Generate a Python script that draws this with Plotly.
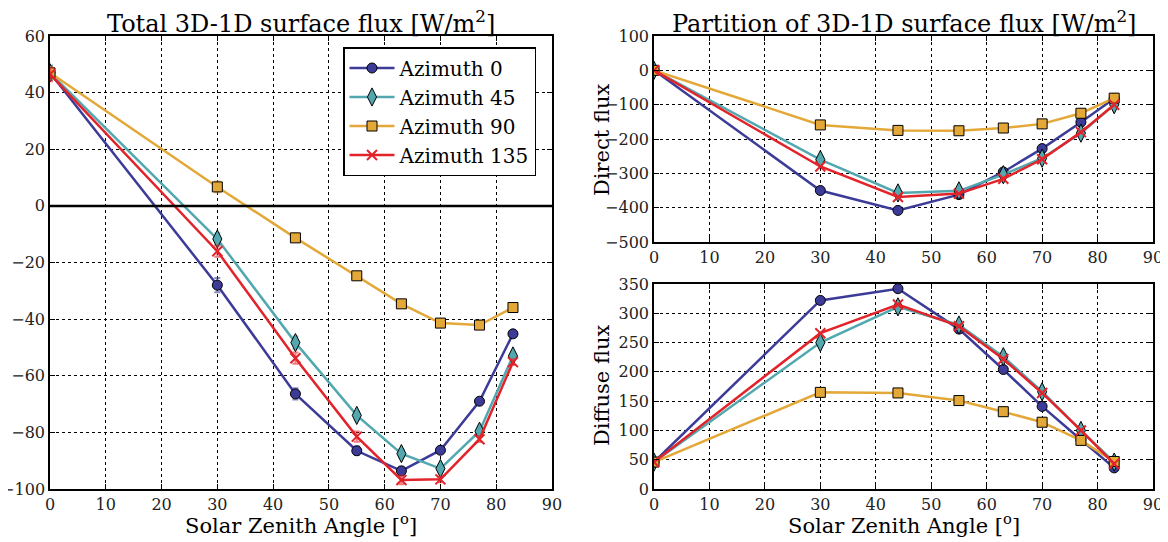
import plotly.graph_objects as go

# ---------------- data ----------------
sza = [0, 30, 44, 55, 63, 70, 77, 83]
names = ["Azimuth 0", "Azimuth 45", "Azimuth 90", "Azimuth 135"]

total_az0 = [47, -28, -66.4, -86.5, -93.6, -86.3, -69, -45.2]
total_az45 = [47, -11.7, -48.3, -74, -87.5, -92.8, -79.6, -53]
total_az90 = [47, 6.7, -11.3, -24.7, -34.6, -41.4, -42.1, -35.9]
total_az135 = [46.5, -16, -53.8, -81.5, -96.8, -96.6, -82.4, -55.2]

err_az0 = [2.5, 2.5, 2, 1.5, 1.5, 1, 1, 1]
err_az45 = [2.5, 2, 2.2, 1.5, 1.5, 1, 1, 1]
err_az90 = [2, 2, 1.5, 1, 1, 1, 0.8, 0.8]
err_az135 = [2.5, 2, 2, 1.8, 1.5, 1, 1, 1]

direct_az0 = [0, -350, -408, -362, -296, -228, -151, -82]
direct_az45 = [0, -260, -357, -351, -304, -256, -183, -100]
direct_az90 = [0, -159, -175, -176, -168, -156, -125, -81]
direct_az135 = [0, -280, -369, -359, -316, -259, -180, -100]

diffuse_az0 = [46, 322, 342, 273, 204, 141, 84, 36]
diffuse_az45 = [46, 250, 311, 280, 226, 166, 100, 46]
diffuse_az90 = [46, 165, 164, 151, 132, 114, 83, 47]
diffuse_az135 = [46, 266, 315, 278, 222, 164, 100, 43]

xticks = [0, 10, 20, 30, 40, 50, 60, 70, 80, 90]

# ---------------- styles ----------------
colors = ["#3C3C98", "#52A8AE", "#E3A838", "#E2232A"]
err_colors = ["rgba(60,60,152,0.6)", "rgba(82,168,174,0.6)",
              "rgba(227,168,56,0.6)", "rgba(226,35,42,0.6)"]
symbols = ["circle", "diamond-tall", "square", "x-thin"]
sizes = [10, 13, 10, 10]

FONT = "DejaVu Serif"

totals = [total_az0, total_az45, total_az90, total_az135]
errs = [err_az0, err_az45, err_az90, err_az135]
directs = [direct_az0, direct_az45, direct_az90, direct_az135]
diffuses = [diffuse_az0, diffuse_az45, diffuse_az90, diffuse_az135]

fig = go.Figure()


def marker(i):
    if symbols[i] == "x-thin":
        return dict(symbol="x-thin", size=sizes[i], color=colors[i],
                    line=dict(color=colors[i], width=2))
    return dict(symbol=symbols[i], size=sizes[i], color=colors[i],
                line=dict(color="black", width=1))


for i in range(4):
    fig.add_trace(go.Scatter(
        x=sza, y=totals[i], name=names[i], mode="lines+markers",
        line=dict(color=colors[i], width=2.5), marker=marker(i),
        error_y=dict(type="data", array=errs[i], color=err_colors[i],
                     thickness=2, width=3),
        xaxis="x", yaxis="y", showlegend=True))
for i in range(4):
    fig.add_trace(go.Scatter(
        x=sza, y=directs[i], name=names[i], mode="lines+markers",
        line=dict(color=colors[i], width=2.5), marker=marker(i),
        xaxis="x2", yaxis="y2", showlegend=False))
for i in range(4):
    fig.add_trace(go.Scatter(
        x=sza, y=diffuses[i], name=names[i], mode="lines+markers",
        line=dict(color=colors[i], width=2.5), marker=marker(i),
        xaxis="x3", yaxis="y3", showlegend=False))

W, H = 1168, 542
OFF = 8  # page body margin


def px_x(p):
    return (p - OFF) / W


def px_y(p):
    return 1 - (p - OFF) / H


axis_common = dict(
    showline=True, linecolor="black", linewidth=1.5, mirror="allticks",
    ticks="inside", ticklen=5, tickwidth=1, tickcolor="black",
    showgrid=True, gridcolor="black", gridwidth=1, griddash="dot",
    zeroline=False, tickfont=dict(family=FONT, size=16, color="#222"),
)


def ann(text, x, y, angle=0, size=21):
    return dict(text=text, x=px_x(x), y=px_y(y), xref="paper", yref="paper",
                xanchor="center", yanchor="middle", showarrow=False,
                textangle=angle, font=dict(family=FONT, size=size, color="black"))


L0, L1 = 50, 552
R0, R1 = 654, 1153

fig.update_layout(
    width=W, height=H, margin=dict(l=0, r=0, t=0, b=0, autoexpand=False),
    paper_bgcolor="white", plot_bgcolor="white",
    font=dict(family=FONT, color="black"),
    xaxis=dict(domain=[px_x(L0), px_x(L1)], range=[0, 90], tickvals=xticks,
               anchor="y", **axis_common),
    yaxis=dict(domain=[px_y(489), px_y(36)], range=[-100, 60],
               tickvals=[-100, -80, -60, -40, -20, 0, 20, 40, 60],
               anchor="x", **axis_common),
    xaxis2=dict(domain=[px_x(R0), px_x(R1)], range=[0, 90], tickvals=xticks,
                anchor="y2", **axis_common),
    yaxis2=dict(domain=[px_y(242), px_y(36)], range=[-500, 100],
                tickvals=[-500, -400, -300, -200, -100, 0, 100],
                anchor="x2", **axis_common),
    xaxis3=dict(domain=[px_x(R0), px_x(R1)], range=[0, 90], tickvals=xticks,
                anchor="y3", **axis_common),
    yaxis3=dict(domain=[px_y(489), px_y(284)], range=[0, 350],
                tickvals=[0, 50, 100, 150, 200, 250, 300, 350],
                anchor="x3", **axis_common),
    legend=dict(x=px_x(343), y=px_y(47), xanchor="left", yanchor="top",
                bgcolor="white", bordercolor="black", borderwidth=1.5,
                font=dict(family=FONT, size=20, color="black"),
                itemwidth=45, tracegroupgap=2),
    shapes=[dict(type="line", xref="x", yref="y", x0=0, x1=90, y0=0, y1=0,
                 line=dict(color="black", width=2.5))],
    annotations=[
        ann("Total 3D-1D surface flux [W/m<sup>2</sup>]", (L0 + L1) / 2, 22, size=24),
        ann("Partition of 3D-1D surface flux [W/m<sup>2</sup>]", (R0 + R1) / 2, 22, size=24),
        ann("Solar Zenith Angle [<sup>o</sup>]", (L0 + L1) / 2, 524, size=21),
        ann("Solar Zenith Angle [<sup>o</sup>]", (R0 + R1) / 2, 524, size=21),
        ann("Direct flux", 602, 140, -90),
        ann("Diffuse flux", 602, 386, -90),
    ],
)

fig.write_html("out.html")
